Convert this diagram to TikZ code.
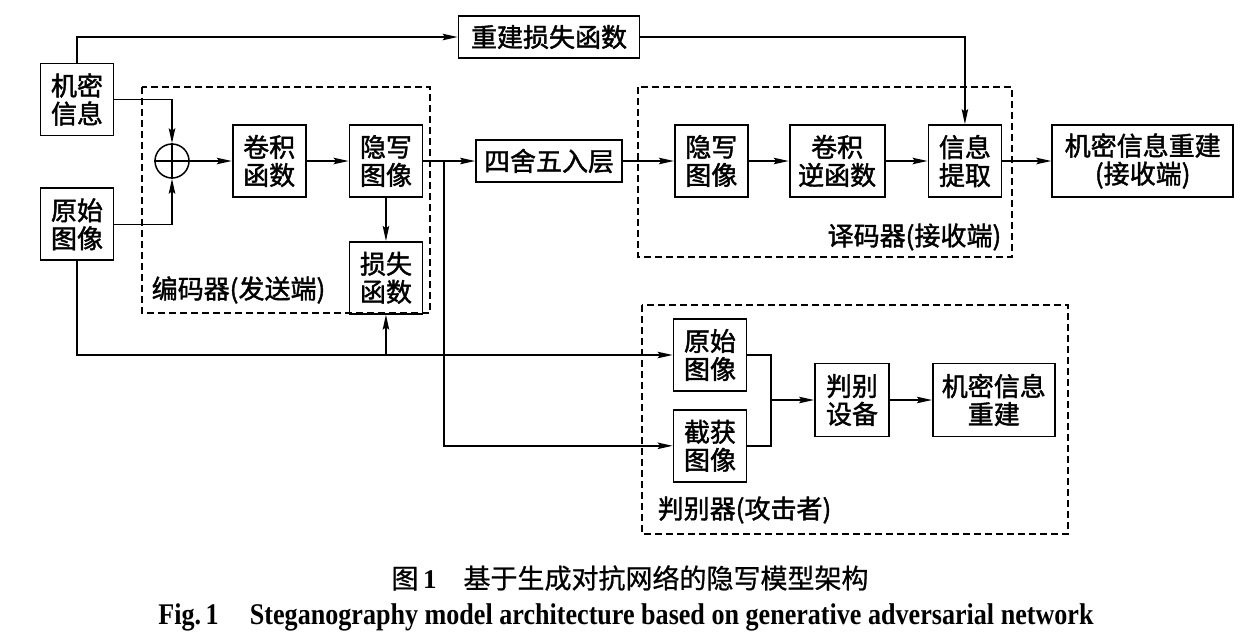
\documentclass[tikz,border=0pt]{standalone}
\usepackage{fontspec}
\setmainfont{Liberation Serif}
\newfontfamily\hei[FakeBold=1.6]{Noto Sans CJK SC}
\newfontfamily\capfont[FakeBold=0.8]{Noto Sans CJK SC}
\usetikzlibrary{positioning,arrows.meta}

\begin{document}
\begin{tikzpicture}[x=1pt,y=-1pt,->,>={Stealth[length=15pt,width=6.5pt,inset=2.5pt]},line width=1.5pt,
  every node/.style={inner sep=0pt},
  blk/.style={rectangle,draw,line width=1.8pt,minimum width=73pt,minimum height=72pt,align=center,font=\hei\fontsize{26}{28}\selectfont},
  wideblk/.style={blk,minimum height=42pt},
  grp/.style={draw,-,dash pattern=on 7pt off 4pt,line width=1.6pt},
  grplabel/.style={font=\hei\fontsize{26}{28}\selectfont}]
  \useasboundingbox (0,0) rectangle (1246,638);
  % sender side
  \node[blk] (msg) at (77,99.5) {机密\\信息};
  \node[blk,below=51pt of msg] (img) {原始\\图像};
  \node[circle,draw,minimum size=34pt] (plus) at (172,161) {};
  \draw[-] (plus.north) -- (plus.south);
  \draw[-] (plus.west) -- (plus.east);
  \node[blk,right=42pt of plus] (conv) {卷积\\函数};
  \node[blk,right=42pt of conv] (stego) {隐写\\图像};
  \node[blk,below=43pt of stego] (loss) {损失\\函数};
  \node[wideblk,minimum width=146pt] (round) at (549,161) {四舍五入层};
  \node[wideblk,minimum width=181pt] (recloss) at (549,37) {重建损失函数};
  % receiver side
  \node[blk,right=51pt of round] (dstego) {隐写\\图像};
  \node[blk,minimum width=95pt,right=40pt of dstego] (deconv) {卷积\\逆函数};
  \node[blk,right=42pt of deconv] (extract) {信息\\提取};
  \node[blk,minimum width=181pt,right=49pt of extract] (rec) {机密信息重建\\(接收端)};
  % attacker
  \node[blk] (dorig) at (710,355) {原始\\图像};
  \node[blk,below=17pt of dorig] (dcap) {截获\\图像};
  \node[blk,minimum width=74pt,minimum height=73pt] (judge) at (852,400) {判别\\设备};
  \node[blk,minimum width=122pt,minimum height=73pt,right=42pt of judge] (drec) {机密信息\\重建};
  % groups
  \draw[grp] (142,87) rectangle (430,313);
  \draw[grp] (638,87) rectangle (1012,257);
  \draw[grp] (642,305) rectangle (1068,534);
  \node[grplabel,anchor=west] (enclabel) at (151,290) {编码器(发送端)};
  \node[grplabel,anchor=east] (declabel) at (1002,237) {译码器(接收端)};
  \node[grplabel,anchor=west] (disclabel) at (657,510) {判别器(攻击者)};
  % connectors
  \draw (msg.north) |- (recloss.west);
  \draw (recloss.east) -| (extract.north);
  \draw (msg.east) -| (plus.north);
  \draw (img.east) -| (plus.south);
  \draw (plus) -- (conv);
  \draw (conv) -- (stego);
  \draw (stego) -- (loss);
  \draw (stego) -- (round);
  \coordinate (split) at (444,161);
  \draw (split) |- (dcap.west);
  \draw (img.south) |- (dorig.west);
  \draw (loss.south |- dorig.west) -- (loss.south);
  \draw (round) -- (dstego);
  \draw (dstego) -- (deconv);
  \draw (deconv) -- (extract);
  \draw (extract) -- (rec);
  \coordinate (merge) at (771,400);
  \draw[-] (dorig.east) -| (merge);
  \draw[-] (dcap.east) -| (merge);
  \draw (merge) -- (judge);
  \draw (judge) -- (drec);
  % captions
  \node[font=\capfont\fontsize{27}{29}\selectfont] (cap) at (630,578) {图\,{\rmfamily\bfseries 1}\quad 基于生成对抗网络的隐写模型架构};
  \node[font=\bfseries\fontsize{30}{32}\selectfont] (capen) at (626,617) {\scalebox{0.87}[1]{Fig.\,1\hspace{1.2em}Steganography model architecture based on generative adversarial network}};
\end{tikzpicture}
\end{document}
